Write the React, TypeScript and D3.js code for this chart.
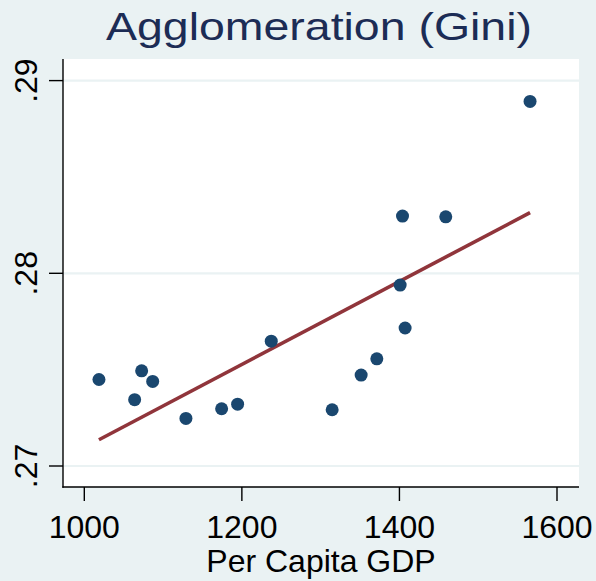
import React from "react";
import * as d3 from "d3";

const gdp = [1018.6, 1072.8, 1086.8, 1063.9, 1129.0, 1174.3, 1194.6, 1237.3, 1403.9, 1458.8, 1400.9, 1407.2, 1371.3, 1351.4, 1314.6, 1565.8];
const gini = [0.27449, 0.27494, 0.27439, 0.27344, 0.27247, 0.27297, 0.27321, 0.27648, 0.28297, 0.28293, 0.27939, 0.27716, 0.27556, 0.27472, 0.27292, 0.28892];
const xTicks = [1000, 1200, 1400, 1600];
const yTicks = [0.27, 0.28, 0.29];
const yTickLabels = [".27", ".28", ".29"];
const title = "Agglomeration (Gini)";
const xTitle = "Per Capita GDP";

const W = 596, H = 581;
const plotL = 63, plotR = 579, plotT = 59, plotB = 487;
const BG = "#eaf2f3";
const FONT = "'Liberation Sans', Arial, sans-serif";

export default function App() {
  const x = d3.scaleLinear().domain([1000, 1600]).range([84.3, 557]);
  const y = d3.scaleLinear().domain([0.27, 0.29]).range([466, 80.6]);

  // linear fit
  const mx = d3.mean(gdp)!;
  const my = d3.mean(gini)!;
  let sxy = 0, sxx = 0;
  gdp.forEach((g, i) => {
    sxy += (g - mx) * (gini[i] - my);
    sxx += (g - mx) * (g - mx);
  });
  const b = sxy / sxx;
  const a = my - b * mx;
  const [xmin, xmax] = d3.extent(gdp) as [number, number];
  const fit: [number, number][] = [
    [xmin, a + b * xmin],
    [xmax, a + b * xmax],
  ];
  const line = d3
    .line<[number, number]>()
    .x((d) => x(d[0]))
    .y((d) => y(d[1]));

  return (
    <svg
      width={W}
      height={H}
      style={{ position: "absolute", left: 0, top: 0, display: "block" }}
    >
      <rect x={0} y={0} width={W} height={H} fill={BG} />
      <rect x={plotL} y={plotT} width={plotR - plotL} height={plotB - plotT} fill="#ffffff" />
      {yTicks.map((t) => (
        <line key={"g" + t} x1={plotL} x2={plotR} y1={y(t)} y2={y(t)} stroke={BG} strokeWidth={2.2} />
      ))}
      <path d={line(fit)!} fill="none" stroke="#90353b" strokeWidth={3.6} />
      {gdp.map((g, i) => (
        <circle key={i} cx={x(g)} cy={y(gini[i])} r={6.5} fill="#1a476f" />
      ))}
      {/* axes */}
      <line x1={plotL} x2={plotL} y1={plotT} y2={plotB + 0.7} stroke="#000" strokeWidth={1.4} />
      <line x1={plotL - 0.7} x2={plotR} y1={plotB} y2={plotB} stroke="#000" strokeWidth={1.4} />
      {yTicks.map((t, i) => (
        <g key={"y" + t}>
          <line x1={plotL - 14} x2={plotL} y1={y(t)} y2={y(t)} stroke="#000" strokeWidth={1.4} />
          <text
            transform={`translate(37,${y(t)}) rotate(-90)`}
            textAnchor="middle"
            fontFamily={FONT}
            fontSize={32}
            fill="#000"
          >
            {yTickLabels[i]}
          </text>
        </g>
      ))}
      {xTicks.map((t) => (
        <g key={"x" + t}>
          <line x1={x(t)} x2={x(t)} y1={plotB} y2={plotB + 14} stroke="#000" strokeWidth={1.4} />
          <text x={x(t)} y={537.7} textAnchor="middle" fontFamily={FONT} fontSize={32} fill="#000">
            {t}
          </text>
        </g>
      ))}
      <text x={(plotL + plotR) / 2} y={572} textAnchor="middle" fontFamily={FONT} fontSize={32} fill="#000">
        {xTitle}
      </text>
      <text
        x={106}
        y={39.5}
        textLength={426}
        lengthAdjust="spacingAndGlyphs"
        fontFamily={FONT}
        fontSize={38.5}
        fill="#1c2c55"
      >
        {title}
      </text>
    </svg>
  );
}
